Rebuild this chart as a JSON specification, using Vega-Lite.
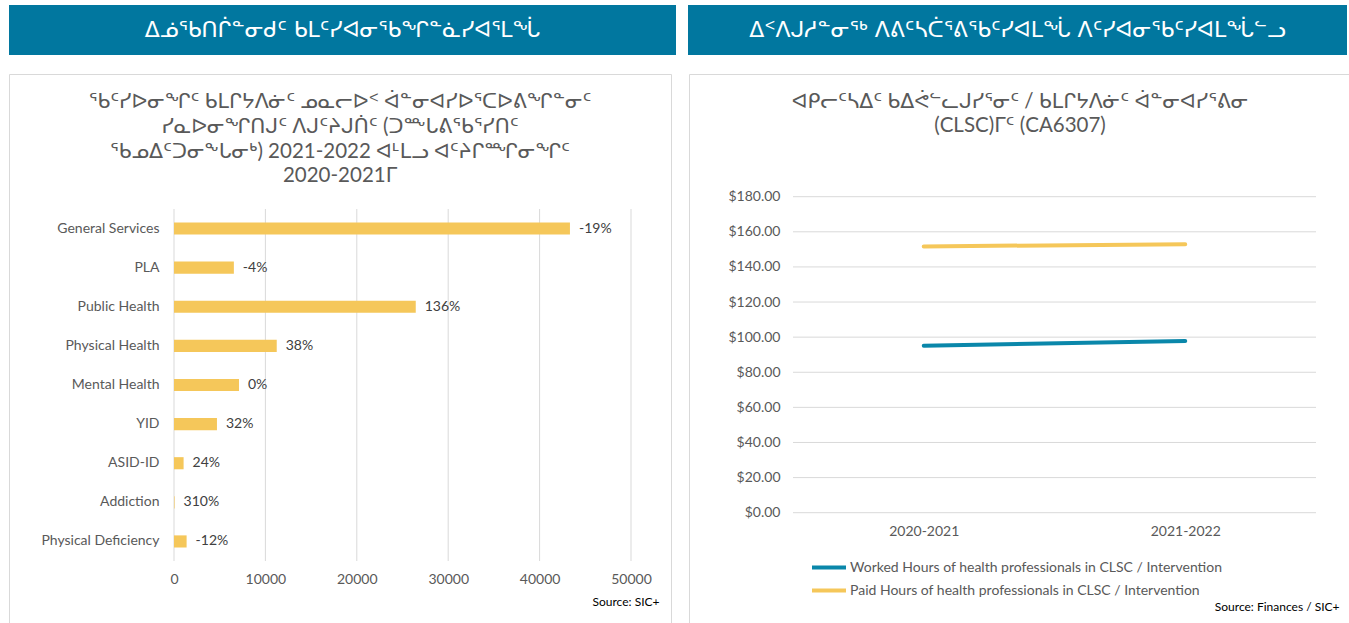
{
  "$schema": "https://vega.github.io/schema/vega-lite/v6.json",
  "background": "white",
  "padding": {"left": 8, "top": 5, "right": 0, "bottom": 0},
  "config": {
    "view": {"stroke": null},
    "font": "Lato",
    "axis": {"labelFont": "Lato", "titleFont": "Lato"},
    "legend": {"labelFont": "Lato"}
  },
  "spacing": 18,
  "vconcat": [
    {
      "spacing": 12,
      "hconcat": [
        {
          "width": 667,
          "height": 50,
          "view": {"fill": "#01779F", "stroke": null},
          "data": {"values": [{"t": "ᐃᓅᖃᑎᒌᓐᓂᑯᑦ ᑲᒪᑦᓯᐊᓂᖃᖏᓐᓈᓯᐊᕐᒪᖔ"}]},
          "mark": {"type": "text", "color": "#FFFFFF", "font": "DejaVu Sans", "fontSize": 22, "align": "center", "baseline": "middle"},
          "encoding": {"text": {"field": "t"}}
        },
        {
          "width": 659,
          "height": 50,
          "view": {"fill": "#01779F", "stroke": null},
          "data": {"values": [{"t": "ᐃᑉᐱᒍᓱᓐᓂᖅ ᐱᕕᑦᓴᑖᕐᕕᖃᑦᓯᐊᒪᖔ ᐱᑦᓯᐊᓂᖃᑦᓯᐊᒪᖔᓪᓗ"}]},
          "mark": {"type": "text", "color": "#FFFFFF", "font": "DejaVu Sans", "fontSize": 22, "align": "center", "baseline": "middle"},
          "encoding": {"text": {"field": "t"}}
        }
      ]
    },
    {
      "spacing": 16,
      "hconcat": [
        {
          "width": 662,
          "height": 550,
          "view": {"stroke": "#D9D9D9", "strokeWidth": 1, "fill": "white"},
          "title": {
            "text": [
              "ᖃᑦᓯᐅᓂᖏᑦ ᑲᒪᒋᔭᐱᓃᑦ ᓄᓇᓕᐅᑉ ᐋᓐᓂᐊᓯᐅᕐᑕᐅᕕᖏᓐᓂᑦ",
              "ᓯᓇᐅᓂᖏᑎᒍᑦ ᐱᒍᑦᔨᒍᑏᑦ (ᑐᖖᒐᕕᖃᕐᓯᑎᑦ",
              "ᖃᓄᐃᑦᑐᓂᖕᒐᓂᒃ) 2021-2022 ᐊᒻᒪᓗ ᐊᑦᔨᒋᙱᓂᖏᑦ",
              "2020-2021ᒥ"
            ],
            "font": "Lato, DejaVu Sans",
            "fontSize": 20.5,
            "fontWeight": "normal",
            "color": "#595959",
            "lineHeight": 24.7,
            "anchor": "middle",
            "offset": -113
          },
          "data": {
            "values": [
              {"category": "General Services", "hours": 43320, "change": "-19%"},
              {"category": "PLA", "hours": 6550, "change": "-4%"},
              {"category": "Public Health", "hours": 26450, "change": "136%"},
              {"category": "Physical Health", "hours": 11240, "change": "38%"},
              {"category": "Mental Health", "hours": 7110, "change": "0%"},
              {"category": "YID", "hours": 4700, "change": "32%"},
              {"category": "ASID-ID", "hours": 1050, "change": "24%"},
              {"category": "Addiction", "hours": 60, "change": "310%"},
              {"category": "Physical Deficiency", "hours": 1380, "change": "-12%"}
            ]
          },
          "resolve": {"scale": {"y": "independent"}},
          "layer": [
            {
              "data": {"values": [{"tick": 0}, {"tick": 10000}, {"tick": 20000}, {"tick": 30000}, {"tick": 40000}, {"tick": 50000}]},
              "mark": {"type": "rule", "color": "#D9D9D9", "strokeWidth": 1},
              "encoding": {
                "x": {
                  "field": "tick", "type": "quantitative",
                  "scale": {"domain": [0, 50000], "range": [165, 622], "nice": false, "zero": false},
                  "axis": {
                    "orient": "bottom", "offset": -56, "values": [0, 10000, 20000, 30000, 40000, 50000], "format": "d",
                    "domain": false, "ticks": false, "tickSize": 0, "grid": false, "labelFlush": false, "labelPadding": 4,
                    "labelFontSize": 14, "labelColor": "#595959",
                    "title": "Source: SIC+", "titleX": 650, "titleY": 33, "titleAlign": "right", "titleBaseline": "middle",
                    "titleFontSize": 12, "titleFontWeight": "normal", "titleColor": "#000000"
                  }
                },
                "y": {"datum": 0, "type": "quantitative", "scale": {"domain": [0, 1], "range": [487, 135], "nice": false, "zero": false}, "axis": null},
                "y2": {"datum": 1}
              }
            },
            {
              "mark": {"type": "bar", "color": "#F5C75A", "height": {"band": 0.31}},
              "encoding": {
                "y": {
                  "field": "category", "type": "nominal", "sort": null,
                  "scale": {"range": [135, 487], "paddingInner": 0, "paddingOuter": 0},
                  "axis": {"title": null, "orient": "left", "offset": -165, "domain": false, "ticks": false, "tickSize": 0, "labelPadding": 15, "labelFontSize": 14, "labelColor": "#595959", "labelLimit": 300}
                },
                "x": {
                  "field": "hours", "type": "quantitative",
                  "scale": {"domain": [0, 50000], "range": [165, 622], "nice": false, "zero": false},
                  "axis": {
                    "orient": "bottom", "offset": -56, "values": [0, 10000, 20000, 30000, 40000, 50000], "format": "d",
                    "domain": false, "ticks": false, "tickSize": 0, "grid": false, "labelFlush": false, "labelPadding": 4,
                    "labelFontSize": 14, "labelColor": "#595959",
                    "title": "Source: SIC+", "titleX": 650, "titleY": 33, "titleAlign": "right", "titleBaseline": "middle",
                    "titleFontSize": 12, "titleFontWeight": "normal", "titleColor": "#000000"
                  }
                }
              }
            },
            {
              "mark": {"type": "text", "align": "left", "baseline": "middle", "dx": 9, "font": "Lato", "fontSize": 14, "color": "#404040"},
              "encoding": {
                "y": {"field": "category", "type": "nominal", "sort": null, "scale": {"range": [135, 487], "paddingInner": 0, "paddingOuter": 0}, "axis": null},
                "x": {
                  "field": "hours", "type": "quantitative",
                  "scale": {"domain": [0, 50000], "range": [165, 622], "nice": false, "zero": false},
                  "axis": {
                    "orient": "bottom", "offset": -56, "values": [0, 10000, 20000, 30000, 40000, 50000], "format": "d",
                    "domain": false, "ticks": false, "tickSize": 0, "grid": false, "labelFlush": false, "labelPadding": 4,
                    "labelFontSize": 14, "labelColor": "#595959",
                    "title": "Source: SIC+", "titleX": 650, "titleY": 33, "titleAlign": "right", "titleBaseline": "middle",
                    "titleFontSize": 12, "titleFontWeight": "normal", "titleColor": "#000000"
                  }
                },
                "text": {"field": "change"}
              }
            }
          ]
        },
        {
          "width": 662,
          "height": 550,
          "view": {"stroke": "#D9D9D9", "strokeWidth": 1, "fill": "white"},
          "title": {
            "text": [
              "ᐊᑭᓕᑦᓴᐃᑦ ᑲᐃᕚᓪᓚᒍᓯᕐᓂᑦ / ᑲᒪᒋᔭᐱᓃᑦ ᐋᓐᓂᐊᓯᕐᕕᓂ",
              "(CLSC)ᒥᑦ (CA6307)"
            ],
            "font": "Lato, DejaVu Sans",
            "fontSize": 20.5,
            "fontWeight": "normal",
            "color": "#595959",
            "lineHeight": 23.5,
            "anchor": "middle",
            "offset": -62
          },
          "resolve": {"scale": {"x": "independent"}},
          "layer": [
            {
              "data": {"values": [{"g": 0}, {"g": 20}, {"g": 40}, {"g": 60}, {"g": 80}, {"g": 100}, {"g": 120}, {"g": 140}, {"g": 160}, {"g": 180}]},
              "mark": {"type": "rule", "color": "#D9D9D9", "strokeWidth": 1},
              "encoding": {
                "y": {
                  "field": "g", "type": "quantitative",
                  "scale": {"domain": [0, 180], "range": [438.7, 122.7], "nice": false, "zero": false},
                  "axis": {"title": null, "orient": "left", "offset": -104, "values": [0, 20, 40, 60, 80, 100, 120, 140, 160, 180], "format": "$.2f", "domain": false, "ticks": false, "tickSize": 0, "grid": false, "labelPadding": 13, "labelFontSize": 14, "labelColor": "#595959"}
                },
                "x": {"datum": 0, "type": "quantitative", "scale": {"domain": [0, 1], "range": [104, 627], "nice": false, "zero": false}, "axis": null},
                "x2": {"datum": 1}
              }
            },
            {
              "data": {
                "values": [
                  {"year": "2020-2021", "series": "Worked Hours of health professionals in CLSC / Intervention", "value": 95.1},
                  {"year": "2021-2022", "series": "Worked Hours of health professionals in CLSC / Intervention", "value": 97.8},
                  {"year": "2020-2021", "series": "Paid Hours of health professionals in CLSC / Intervention", "value": 151.7},
                  {"year": "2021-2022", "series": "Paid Hours of health professionals in CLSC / Intervention", "value": 152.9}
                ]
              },
              "mark": {"type": "line", "strokeWidth": 4, "strokeCap": "round"},
              "encoding": {
                "x": {
                  "field": "year", "type": "ordinal",
                  "scale": {"type": "point", "range": [104, 627], "padding": 0.5},
                  "axis": {
                    "orient": "bottom", "offset": -111.3, "domain": false, "ticks": false, "tickSize": 0, "grid": false,
                    "labelPadding": 12, "labelAngle": 0, "labelFontSize": 14, "labelColor": "#595959",
                    "title": "Source: Finances / SIC+", "titleX": 650, "titleY": 93.3, "titleAlign": "right", "titleBaseline": "middle",
                    "titleFontSize": 12, "titleFontWeight": "normal", "titleColor": "#000000"
                  }
                },
                "y": {
                  "field": "value", "type": "quantitative",
                  "scale": {"domain": [0, 180], "range": [438.7, 122.7], "nice": false, "zero": false},
                  "axis": {"title": null, "orient": "left", "offset": -104, "values": [0, 20, 40, 60, 80, 100, 120, 140, 160, 180], "format": "$.2f", "domain": false, "ticks": false, "tickSize": 0, "grid": false, "labelPadding": 13, "labelFontSize": 14, "labelColor": "#595959"}
                },
                "color": {
                  "field": "series", "type": "nominal",
                  "scale": {
                    "domain": ["Worked Hours of health professionals in CLSC / Intervention", "Paid Hours of health professionals in CLSC / Intervention"],
                    "range": ["#0A87AA", "#F5C75A"]
                  },
                  "legend": {
                    "orient": "none", "legendX": 801, "legendY": 552, "title": null, "direction": "vertical",
                    "symbolType": "stroke", "symbolSize": 1156, "symbolStrokeWidth": 4,
                    "labelFontSize": 14, "labelColor": "#595959", "labelOffset": 2, "labelLimit": 500,
                    "clipHeight": 21, "rowPadding": 2
                  }
                }
              }
            }
          ]
        }
      ]
    }
  ]
}
